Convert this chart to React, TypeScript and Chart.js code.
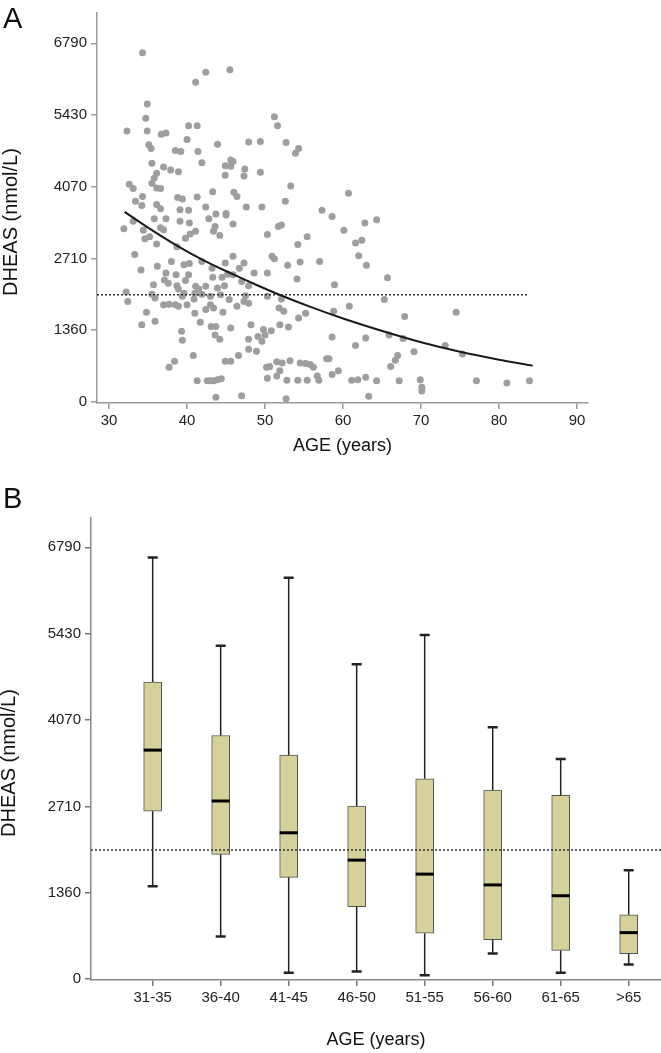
import React, { useEffect, useRef } from 'react';
import { Chart, registerables } from 'chart.js';

Chart.register(...registerables);

const FONT = '"Liberation Sans", Arial, Helvetica, sans-serif';

// ---------- Panel A data ----------
const dheasTicks = [0, 1360, 2710, 4070, 5430, 6790];
const ageTicks = [30, 40, 50, 60, 70, 80, 90];
const cutoffValue = 2030;
const cutoffAges = [28.46, 83.7];

const scatterAge = [
  34.3, 42.4, 45.5, 41.1, 34.9, 34.7, 32.3, 34.9, 36.7, 37.3, 40.2, 41.3, 40.0, 35.1, 35.4, 38.5, 39.2, 41.4, 43.9, 47.9,
  35.5, 37.0, 37.9, 38.9, 41.9, 45.6, 45.9, 44.9, 45.6, 44.9, 47.4, 47.3, 36.1, 35.8, 35.5, 36.1, 36.6, 32.6, 33.1, 34.3,
  33.4, 34.2, 36.1, 36.6, 38.8, 39.4, 41.3, 43.3, 46.0, 46.4, 47.6, 42.4, 39.1, 40.2, 45.0, 43.7,
  51.2, 51.6, 49.4, 52.7, 54.3, 53.9, 49.4, 53.3, 60.7, 49.6, 52.6, 57.3,
  33.1, 35.8, 37.3, 39.1, 40.3, 42.8, 45.0, 45.9, 31.9, 34.4, 36.6, 37.0, 41.1, 40.4, 39.8, 43.4, 43.6, 44.2, 34.6, 35.2,
  36.1, 38.7, 33.3, 38.0, 39.6, 40.3, 41.9, 45.9, 44.9, 47.3, 46.7, 34.1, 36.2, 37.3, 38.6, 40.2, 43.2, 43.3, 44.5, 45.2,
  45.9, 47.0, 48.6, 37.1, 37.6, 39.8, 35.7, 38.7, 38.9, 41.1, 41.5, 42.4, 43.9, 44.8, 47.9, 32.2, 32.4, 35.5, 35.9, 39.6,
  41.0, 41.9, 39.4, 40.9, 43.0, 44.3, 45.4, 47.5, 47.3, 37.0, 37.7, 38.5, 38.9, 40.0, 43.0, 42.4, 43.4, 46.4, 47.9, 34.8,
  34.2, 35.9, 41.0, 41.7, 44.6, 45.6, 48.2, 43.1, 43.7, 43.6, 44.2, 39.3, 39.4, 47.9, 47.9, 40.8, 38.4, 37.7, 44.9, 45.6,
  46.6, 41.3, 42.6, 43.0, 43.4, 43.9, 44.4, 43.7, 47.0,
  58.6, 51.7, 52.1, 60.1, 62.8, 64.3, 50.3, 55.4, 54.2, 61.6, 62.4, 62.0, 50.9, 51.2, 52.9, 54.5, 57.0, 63.0, 50.3, 54.1,
  65.7, 58.9, 50.3, 52.1, 65.3, 51.8, 52.4, 60.8, 55.2, 54.3, 58.8, 67.9, 51.9, 53.0, 50.8, 49.8, 50.0, 49.1, 49.6, 48.9,
  58.6, 61.6, 62.9, 65.9, 67.7, 69.1, 67.0, 66.7, 66.1, 57.9, 58.2, 53.2, 51.5, 52.2, 50.2, 50.6, 54.5, 55.2, 55.8, 56.2,
  59.4, 58.6, 51.9, 51.5, 50.3, 52.8, 56.7, 56.9, 54.2, 55.4, 61.1, 61.9, 62.9, 64.3, 67.2, 52.7, 63.3,
  69.9, 70.1, 70.1, 74.5, 73.1, 75.3, 77.1, 81.0, 83.9,
];
const scatterDheas = [
  6610, 6240, 6290, 6050, 5640, 5370, 5130, 5130, 5070, 5090, 5230, 5230, 4970, 4870, 4800, 4760, 4740, 4740, 4880, 4920,
  4520, 4450, 4390, 4360, 4530, 4580, 4550, 4470, 4460, 4290, 4410, 4280, 4330, 4240, 4140, 4050, 4040, 4120, 4040, 3890,
  3800, 3720, 3740, 3660, 3870, 3840, 3880, 3980, 3970, 3890, 3690, 3690, 3640, 3630, 3570, 3560,
  5400, 5230, 4930, 4910, 4800, 4710, 4350, 4090, 3950, 3690, 3800, 3630,
  3420, 3470, 3470, 3420, 3390, 3470, 3540, 3370, 3280, 3250, 3300, 3260, 3230, 3180, 3100, 3230, 3320, 3150, 3090, 3130,
  2990, 2940, 2790, 2660, 2600, 2620, 2660, 2760, 2630, 2630, 2530, 2500, 2570, 2440, 2410, 2410, 2530, 2360, 2360, 2420,
  2410, 2280, 2440, 2310, 2250, 2300, 2220, 2200, 2140, 2190, 2140, 2190, 2160, 2200, 2200, 2080, 1900, 2040, 1970, 2060,
  2060, 2040, 2000, 1950, 2000, 2030, 1940, 2010, 1900, 1840, 1850, 1840, 1810, 1840, 1840, 1750, 1780, 1810, 1870, 1700,
  1460, 1530, 1680, 1510, 1700, 1400, 1460, 1430, 1430, 1270, 1190, 1340, 1170, 1190, 1000, 880, 770, 660, 770, 770,
  880, 400, 400, 400, 400, 420, 440, 90, 120,
  3510, 3320, 3350, 3250, 3390, 3450, 3170, 3130, 2980, 3010, 3060, 2770, 2760, 2710, 2590, 2650, 2660, 2590, 2440, 2330,
  2350, 2220, 2000, 1950, 1940, 1780, 1720, 1810, 1680, 1590, 1720, 1620, 1460, 1420, 1350, 1370, 1270, 1240, 1150, 960,
  1230, 1070, 1210, 1270, 1200, 950, 880, 790, 670, 820, 820, 780, 760, 740, 660, 670, 740, 730, 710, 660,
  590, 520, 590, 490, 450, 410, 490, 410, 410, 410, 410, 420, 470, 400, 400, 60, 110,
  420, 280, 210, 1700, 1070, 910, 400, 360, 400,
];

const fitAge = [32, 35, 38.7, 42, 46, 49, 52, 56, 60, 66, 70, 75, 80, 84.3];
const fitDheas = [3600, 3300, 2960, 2690, 2410, 2210, 2020, 1790, 1580, 1300, 1130, 950, 800, 686];

// ---------- Panel B data ----------
const ageGroups = ['31-35', '36-40', '41-45', '46-50', '51-55', '56-60', '61-65', '>65'];
const boxMin = [1460, 670, 100, 120, 60, 400, 100, 230];
const boxQ1 = [2640, 1960, 1600, 1140, 720, 620, 450, 400];
const boxMedian = [3600, 2800, 2300, 1870, 1650, 1480, 1310, 730];
const boxQ3 = [4670, 3830, 3520, 2720, 3150, 2970, 2890, 1010];
const boxMax = [6630, 5240, 6310, 4950, 5410, 3960, 3460, 1710];

type TextItem = {
  text: string; x: number; y: number; size: number;
  rotate?: boolean; align?: CanvasTextAlign;
};

function makeTextPlugin(items: TextItem[]) {
  return {
    id: 'extraText',
    afterDraw(chart: any) {
      const ctx = chart.ctx as CanvasRenderingContext2D;
      items.forEach((it) => {
        ctx.save();
        ctx.font = `${it.size}px ${FONT}`;
        ctx.fillStyle = '#111';
        ctx.textAlign = it.align || 'center';
        ctx.textBaseline = 'alphabetic';
        ctx.translate(it.x, it.y);
        if (it.rotate) ctx.rotate(-Math.PI / 2);
        ctx.fillText(it.text, 0, 0);
        ctx.restore();
      });
    },
  };
}

const tickFont = { family: FONT, size: 15 };
const axisGrid = { drawOnChartArea: false, drawTicks: true, tickLength: 6, color: '#9a9a9a', lineWidth: 1.5 };
const axisBorder = { display: true, color: '#9a9a9a', width: 1.5 };

function PanelA() {
  const ref = useRef<HTMLCanvasElement>(null);
  useEffect(() => {
    const chart = new Chart(ref.current!, {
      type: 'scatter',
      data: {
        datasets: [
          {
            type: 'line',
            data: fitAge.map((a, i) => ({ x: a, y: fitDheas[i] })),
            borderColor: '#1a1a1a',
            borderWidth: 2,
            pointRadius: 0,
            showLine: true,
            cubicInterpolationMode: 'monotone',
            order: 0,
          } as any,
          {
            type: 'line',
            data: cutoffAges.map((a) => ({ x: a, y: cutoffValue })),
            borderColor: '#333',
            borderWidth: 1.5,
            borderDash: [2, 2],
            pointRadius: 0,
            showLine: true,
            order: 1,
          } as any,
          {
            type: 'scatter',
            data: scatterAge.map((a, i) => ({ x: a, y: scatterDheas[i] })),
            backgroundColor: '#9e9e9e',
            borderWidth: 0,
            pointRadius: 3.5,
            order: 2,
          },
        ],
      },
      options: {
        animation: false,
        responsive: false,
        events: [],
        layout: { padding: { left: 0, right: 73, top: 13, bottom: 9 } },
        plugins: { legend: { display: false }, tooltip: { enabled: false } },
        scales: {
          x: {
            type: 'linear',
            min: 28.46,
            max: 91.4,
            afterBuildTicks: (s: any) => { s.ticks = ageTicks.map((v) => ({ value: v })); },
            afterFit: (s: any) => { s.height = 58; },
            ticks: { font: tickFont, color: '#222', padding: 3, maxRotation: 0, autoSkip: false, callback: (v: any) => String(v) },
            grid: axisGrid,
            border: axisBorder,
            title: { display: true, text: 'AGE (years)', color: '#111', font: { family: FONT, size: 18 }, padding: { top: 0, bottom: 4 } },
          },
          y: {
            type: 'linear',
            min: -19,
            max: 7363,
            afterBuildTicks: (s: any) => { s.ticks = dheasTicks.map((v) => ({ value: v })); },
            afterFit: (s: any) => { s.width = 97; },
            ticks: { font: tickFont, color: '#222', padding: 4, autoSkip: false, callback: (v: any) => String(v) },
            grid: axisGrid,
            border: axisBorder,
          },
        },
      } as any,
      plugins: [
        makeTextPlugin([
          { text: 'A', x: 3, y: 28, size: 29, align: 'left' },
          { text: 'DHEAS (nmol/L)', x: 17, y: 222, size: 20, rotate: true },
        ]),
      ],
    });
    return () => chart.destroy();
  }, []);
  return <canvas ref={ref} width={661} height={470} style={{ display: 'block' }} />;
}

const boxPlugin = {
  id: 'boxDetails',
  afterDatasetsDraw(chart: any) {
    const { ctx, chartArea } = chart;
    const xs = chart.scales.x;
    const ys = chart.scales.y;
    const half = 9;
    const capHalf = 5;
    ctx.save();
    ageGroups.forEach((_, i) => {
      const cx = xs.getPixelForValue(i);
      ctx.strokeStyle = '#222';
      ctx.lineWidth = 1.5;
      ctx.beginPath();
      ctx.moveTo(cx, ys.getPixelForValue(boxMax[i]));
      ctx.lineTo(cx, ys.getPixelForValue(boxQ3[i]));
      ctx.moveTo(cx, ys.getPixelForValue(boxQ1[i]));
      ctx.lineTo(cx, ys.getPixelForValue(boxMin[i]));
      ctx.stroke();
      ctx.lineWidth = 2.5;
      ctx.beginPath();
      [boxMax[i], boxMin[i]].forEach((v) => {
        const py = ys.getPixelForValue(v);
        ctx.moveTo(cx - capHalf, py);
        ctx.lineTo(cx + capHalf, py);
      });
      ctx.stroke();
      ctx.strokeStyle = '#000';
      ctx.lineWidth = 3;
      const pm = ys.getPixelForValue(boxMedian[i]);
      ctx.beginPath();
      ctx.moveTo(cx - half, pm);
      ctx.lineTo(cx + half, pm);
      ctx.stroke();
    });
    ctx.setLineDash([2, 2]);
    ctx.lineWidth = 1.5;
    ctx.strokeStyle = '#333';
    const pc = ys.getPixelForValue(cutoffValue);
    ctx.beginPath();
    ctx.moveTo(chartArea.left, pc);
    ctx.lineTo(chartArea.right, pc);
    ctx.stroke();
    ctx.restore();
  },
};

function PanelB() {
  const ref = useRef<HTMLCanvasElement>(null);
  useEffect(() => {
    const chart = new Chart(ref.current!, {
      type: 'bar',
      data: {
        datasets: [
          {
            type: 'bar',
            data: ageGroups.map((_, i) => ({ x: i, y: [boxQ1[i], boxQ3[i]] })),
            backgroundColor: '#d6d09a',
            borderColor: '#555',
            borderWidth: 1,
            borderSkipped: false,
            barThickness: 18,
          } as any,
        ],
      },
      options: {
        animation: false,
        responsive: false,
        events: [],
        layout: { padding: { left: 0, right: 0, top: 48, bottom: 2 } },
        plugins: { legend: { display: false }, tooltip: { enabled: false } },
        scales: {
          x: {
            type: 'linear',
            min: -0.907,
            max: 7.475,
            offset: false,
            afterBuildTicks: (s: any) => { s.ticks = ageGroups.map((_, i) => ({ value: i })); },
            afterFit: (s: any) => { s.height = 71; },
            ticks: { font: tickFont, color: '#222', padding: 3, maxRotation: 0, autoSkip: false, callback: (v: any) => ageGroups[v] ?? '' },
            grid: { ...axisGrid, offset: false, color: '#777' },
            border: { ...axisBorder, color: '#888' },
            title: { display: true, text: 'AGE (years)', color: '#111', font: { family: FONT, size: 18 }, padding: { top: 0, bottom: 0 } },
          },
          y: {
            type: 'linear',
            min: -15,
            max: 7250,
            afterBuildTicks: (s: any) => { s.ticks = dheasTicks.map((v) => ({ value: v })); },
            afterFit: (s: any) => { s.width = 91; },
            ticks: { font: tickFont, color: '#222', padding: 4, autoSkip: false, callback: (v: any) => String(v) },
            grid: { ...axisGrid, color: '#777' },
            border: { ...axisBorder, color: '#888' },
          },
        },
      } as any,
      plugins: [
        boxPlugin,
        makeTextPlugin([
          { text: 'B', x: 3, y: 38, size: 29, align: 'left' },
          { text: 'DHEAS (nmol/L)', x: 15, y: 293, size: 20, rotate: true },
        ]),
      ],
    });
    return () => chart.destroy();
  }, []);
  return <canvas ref={ref} width={661} height={583} style={{ display: 'block' }} />;
}

export default function App() {
  return (
    <div style={{ position: 'absolute', left: 0, top: 0, width: 661, height: 1053, background: '#fff' }}>
      <div style={{ position: 'absolute', left: 0, top: 0, width: 661, height: 470 }}>
        <PanelA />
      </div>
      <div style={{ position: 'absolute', left: 0, top: 470, width: 661, height: 583 }}>
        <PanelB />
      </div>
    </div>
  );
}
